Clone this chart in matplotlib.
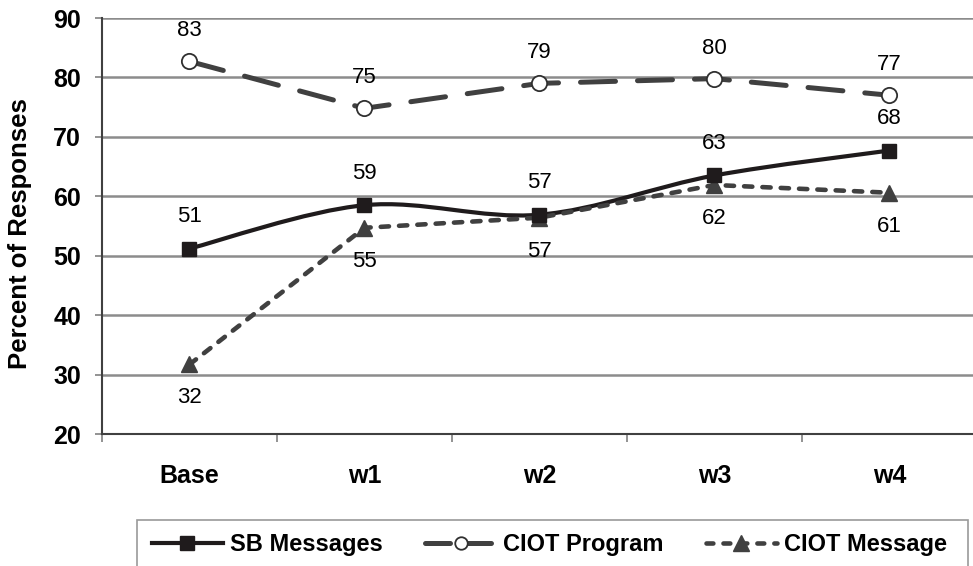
import numpy as np
import matplotlib
matplotlib.use("Agg")
import matplotlib.pyplot as plt
from matplotlib.path import Path
from matplotlib.patches import PathPatch, Rectangle
from matplotlib.lines import Line2D

plt.rcParams["font.family"] = ["Liberation Sans", "DejaVu Sans"]

categories = ["Base", "w1", "w2", "w3", "w4"]
sb_messages = [51.2, 58.5, 56.9, 63.5, 67.7]
ciot_program = [82.7, 74.8, 79.0, 79.8, 77.0]
ciot_message = [31.7, 54.7, 56.4, 61.9, 60.6]
sb_labels = ["51", "59", "57", "63", "68"]
program_labels = ["83", "75", "79", "80", "77"]
message_labels = ["32", "55", "57", "62", "61"]
y_ticks = [20, 30, 40, 50, 60, 70, 80, 90]


def smooth_path(xs, ys):
    """Catmull-Rom style cubic Bezier through the points (smoothed line)."""
    xs = np.asarray(xs, float)
    ys = np.asarray(ys, float)
    n = len(xs)
    verts = [(xs[0], ys[0])]
    codes = [Path.MOVETO]
    for i in range(n - 1):
        p0 = np.array([xs[max(i - 1, 0)], ys[max(i - 1, 0)]])
        p1 = np.array([xs[i], ys[i]])
        p2 = np.array([xs[i + 1], ys[i + 1]])
        p3 = np.array([xs[min(i + 2, n - 1)], ys[min(i + 2, n - 1)]])
        c1 = p1 + (p2 - p0) / 6.0
        c2 = p2 - (p3 - p1) / 6.0
        verts += [tuple(c1), tuple(c2), tuple(p2)]
        codes += [Path.CURVE4] * 3
    return Path(verts, codes)


W, H = 973, 566
fig = plt.figure(figsize=(W / 100, H / 100), dpi=100)
ax = fig.add_axes([102 / W, 1 - 434 / H, 1 - 102 / W + 0.004, (434 - 18) / H])

x = np.arange(len(categories))
ax.set_xlim(-0.5, len(categories) - 0.5)
ax.set_ylim(20, 90)

for yv in y_ticks[1:]:
    ax.axhline(yv, color="#8c8c8c", lw=1.8, zorder=1)

sb_col = "#1f1b1c"
prog_col = "#404040"
msg_col = "#404040"

# SB Messages: smoothed solid line
ax.add_patch(PathPatch(smooth_path(x, sb_messages), facecolor="none", edgecolor=sb_col,
                       lw=3.0, zorder=3))
ax.plot(x, sb_messages, linestyle="none", marker="s", markersize=9.5,
        markerfacecolor=sb_col, markeredgecolor=sb_col, zorder=4)

# CIOT Program: long dashes, open circles
ax.plot(x, ciot_program, color=prog_col, lw=3.6, linestyle=(0, (7, 4.4)),
        dash_capstyle="round", marker="o", markersize=11, markerfacecolor="white",
        markeredgecolor="#303030", markeredgewidth=1.3, zorder=3)

# CIOT Message: short dashes, filled triangles
ax.plot(x, ciot_message, color=msg_col, lw=3.3, linestyle=(0, (1.8, 2.2)),
        dash_capstyle="round", marker="^", markersize=12, markerfacecolor=msg_col,
        markeredgecolor=msg_col, zorder=3)

label_kw = dict(ha="center", va="center", fontsize=16, color="black", zorder=5)
for xi, yv, t in zip(x, sb_messages, sb_labels):
    ax.annotate(t, (xi, yv), xytext=(0, 23), textcoords="offset points", **label_kw)
for xi, yv, t in zip(x, ciot_program, program_labels):
    ax.annotate(t, (xi, yv), xytext=(0, 22), textcoords="offset points", **label_kw)
for xi, yv, t in zip(x, ciot_message, message_labels):
    ax.annotate(t, (xi, yv), xytext=(0, -24), textcoords="offset points", **label_kw)

ax.set_yticks(y_ticks)
ax.set_yticklabels([str(v) for v in y_ticks], fontsize=18, fontweight="bold")
ax.set_xticks(x)
ax.set_xticklabels(categories, fontsize=18, fontweight="bold")
ax.tick_params(axis="x", length=0, pad=21.5)
ax.tick_params(axis="y", length=5, width=1.2, color="#808080", pad=10)
ax.set_xticks(np.arange(-0.5, len(categories)), minor=True)
ax.tick_params(axis="x", which="minor", length=6, width=1.2, color="#808080")

for side in ("top", "right"):
    ax.spines[side].set_visible(False)
for side in ("left", "bottom"):
    ax.spines[side].set_color("#404040")
    ax.spines[side].set_linewidth(1.5)

fig.text(20 / W, 1 - 234 / H, "Percent of Responses", rotation=90, ha="center",
         va="center", fontsize=18.5, fontweight="bold")

# legend with a plain box below the plot
fig.patches.append(Rectangle((137 / W, -0.02), (968 - 137) / W, 0.02 + (566 - 520) / H,
                             transform=fig.transFigure, facecolor="white",
                             edgecolor="#9a9a9a", lw=1.2, zorder=0))
handles = [
    Line2D([], [], color=sb_col, lw=3.0, ls="-", marker="s", markersize=9.5,
           markerfacecolor=sb_col, markeredgecolor=sb_col),
    Line2D([], [], color=prog_col, lw=3.6, ls=(0, (5, 3.2)), dash_capstyle="round",
           marker="o", markersize=9, markerfacecolor="white", markeredgecolor="#303030",
           markeredgewidth=1.3),
    Line2D([], [], color=msg_col, lw=3.3, ls=(0, (1.5, 2.2)), dash_capstyle="round",
           marker="^", markersize=11, markerfacecolor=msg_col, markeredgecolor=msg_col),
]
fig.legend(handles, ["SB Messages", "CIOT Program", "CIOT Message"],
           loc="center left", bbox_to_anchor=(152 / W, 1 - 545 / H),
           ncol=3, frameon=False, prop={"weight": "bold", "size": 17},
           handlelength=3.0, handletextpad=0.3, columnspacing=1.8,
           borderpad=0, borderaxespad=0)

fig.savefig("out.png", dpi=100)
